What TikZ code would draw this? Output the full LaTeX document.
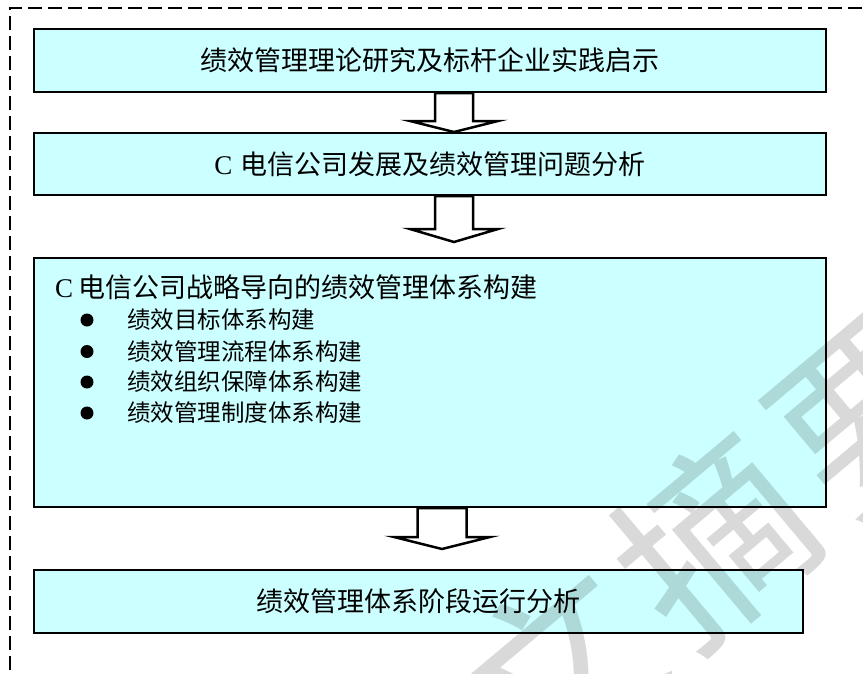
\documentclass[tikz,border=0pt]{standalone}
\usepackage{fontspec}
\setmainfont{Liberation Serif}
\newfontfamily\cjk{Noto Sans CJK SC}
\usetikzlibrary{calc}
\definecolor{boxcyan}{HTML}{CCFFFF}
\tikzset{
  box/.style={draw=black, line width=2pt, fill=boxcyan, inner sep=0pt},
  boxtext/.style={font=\cjk\fontsize{27}{30}\selectfont},
  headtext/.style={font=\cjk\fontsize{27}{30}\selectfont, anchor=west, inner sep=0pt},
  itemtext/.style={font=\cjk\fontsize{23.5}{26}\selectfont, anchor=west, inner sep=0pt},
  bulletdot/.style={circle, fill=black, minimum size=13pt, inner sep=0pt},
  blockarrow/.style={draw=black, line width=2.5pt, fill=white, line join=miter},
  dashframe/.style={draw=black, line width=1.8pt, dash pattern=on 14pt off 6pt},
  watermark/.style={font=\cjk\fontsize{190}{200}\selectfont, text=black, text opacity=0.15, inner sep=0pt}
}
\newcommand\blkarrow[5]{% start, tip, stem half, head half, head height
  \draw[blockarrow] ($(#1)+(-#3,0)$) -- ($(#2)+(-#3,-#5)$) -- ($(#2)+(-#4,-#5)$) -- (#2)
    -- ($(#2)+(#4,-#5)$) -- ($(#2)+(#3,-#5)$) -- ($(#1)+(#3,0)$) -- cycle;}
\begin{document}
\begin{tikzpicture}[x=1pt,y=-1pt]
\useasboundingbox (0,0) rectangle (863,673);
\clip (0,0) rectangle (863,673);
\fill[white] (0,0) rectangle (863,673);
\draw[dashframe] (10,690) -- (10,8) -- (880,8);

\node[box, boxtext, minimum width=792pt, minimum height=63pt] (b1) at (430,60.5) {绩效管理理论研究及标杆企业实践启示};
\node[box, boxtext, minimum width=792pt, minimum height=62pt] (b2) at (430,164) {{\rmfamily C}\hspace{0.3em}电信公司发展及绩效管理问题分析};
\node[box, minimum width=792pt, minimum height=249pt] (b3) at (430,382.5) {};
\node[box, boxtext, minimum width=769pt, minimum height=63pt] (b4) at (418.5,601.5) {绩效管理体系阶段运行分析};

\node[headtext] (h3) at (55,287) {{\rmfamily C}\hspace{0.2em}电信公司战略导向的绩效管理体系构建};
\node[bulletdot] (d1) at (87,320) {};
\node[bulletdot] (d2) at (87,351.5) {};
\node[bulletdot] (d3) at (87,382) {};
\node[bulletdot] (d4) at (87,413) {};
\node[itemtext] (i1) at (127,320) {绩效目标体系构建};
\node[itemtext] (i2) at (127,351.5) {绩效管理流程体系构建};
\node[itemtext] (i3) at (127,382) {绩效组织保障体系构建};
\node[itemtext] (i4) at (127,413) {绩效管理制度体系构建};

\coordinate (a1s) at ($(b1.south)+(24,0)$);
\coordinate (a1e) at ($(b2.north)+(24,0)$);
\coordinate (a2s) at ($(b2.south)+(24,0)$);
\coordinate (a2e) at ($(b3.north)+(24,-15)$);
\coordinate (a3s) at ($(b3.south)+(12,0)$);
\coordinate (a3e) at ($(b4.north)+(23.5,-20)$);
\blkarrow{a1s}{a1e}{19}{44}{11}
\blkarrow{a2s}{a2e}{19}{44}{13}
\blkarrow{a3s}{a3e}{24.5}{48}{12}

\node[watermark, rotate=40] (wm) at (636,606) {论\hspace{15pt}文\hspace{15pt}摘\hspace{15pt}要};
\end{tikzpicture}
\end{document}
